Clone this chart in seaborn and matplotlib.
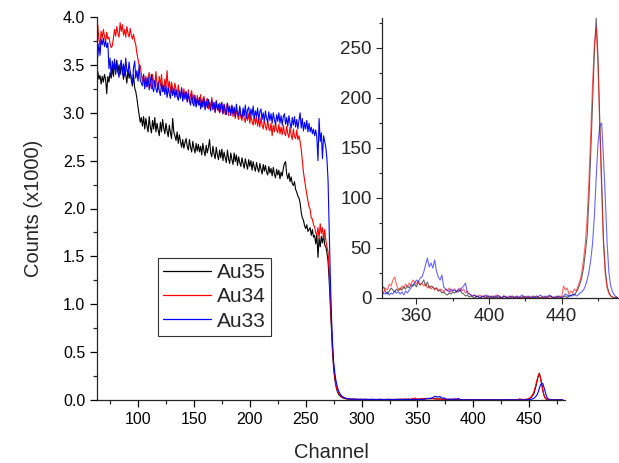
import numpy as np
import pandas as pd
import matplotlib
matplotlib.use("Agg")
import matplotlib.pyplot as plt
import seaborn as sns
from matplotlib.ticker import MultipleLocator, FormatStrFormatter

# ---------------- data (counts per channel) ----------------
series_names = ["Au35", "Au34", "Au33"]
series_colors = ["#000000", "#ff0000", "#0000ff"]
first_channel = 64

# channels 64..280
au35_plateau = [
    3430, 3350, 3390, 3300, 3380, 3320, 3400, 3350, 3200, 3380,
    3320, 3420, 3360, 3470, 3380, 3530, 3430, 3550, 3420, 3500,
    3400, 3520, 3430, 3350, 3480, 3400, 3310, 3450, 3360, 3430,
    3340, 3280, 3400, 3260, 3220, 3150, 3060, 2980, 2900, 2950,
    2860, 2960, 2830, 2940, 2860, 2800, 2960, 2850, 2790, 2920,
    2830, 2950, 2800, 2890, 2820, 2760, 2900, 2800, 2930, 2840,
    2780, 2890, 2810, 2750, 2870, 2790, 2730, 2940, 2800, 2760,
    2710, 2800, 2680, 2770, 2700, 2640, 2720, 2630, 2690, 2730,
    2650, 2610, 2720, 2640, 2590, 2700, 2630, 2580, 2680, 2600,
    2670, 2590, 2650, 2560, 2680, 2600, 2550, 2660, 2580, 2640,
    2720, 2580, 2540, 2650, 2570, 2520, 2640, 2560, 2510, 2610,
    2530, 2620, 2500, 2590, 2530, 2480, 2610, 2520, 2470, 2580,
    2510, 2460, 2580, 2490, 2560, 2450, 2540, 2480, 2440, 2530,
    2470, 2420, 2520, 2460, 2410, 2510, 2440, 2500, 2400, 2490,
    2430, 2390, 2480, 2420, 2380, 2470, 2410, 2360, 2460, 2390,
    2450, 2380, 2350, 2440, 2370, 2420, 2340, 2430, 2360, 2320,
    2410, 2350, 2400, 2310, 2380, 2340, 2420, 2470, 2490, 2360,
    2310, 2370, 2280, 2330, 2260, 2240, 2280, 2200, 2170, 2130,
    2110, 2060, 1960, 1900, 1880, 1820, 1790, 1830, 1760, 1780,
    1800, 1720, 1780, 1700, 1720, 1630, 1730, 1490, 1690, 1600,
    1710, 1640, 1730, 1620, 1600, 1540, 1450, 1250, 1000, 750,
    500, 330, 220, 150, 100, 70, 50,
]
au34_plateau = [
    3920, 3760, 3710, 3850, 3780, 3870, 3800, 3740, 3840, 3770,
    3790, 3720, 3680, 3700, 3780, 3870, 3800, 3900, 3830, 3790,
    3940, 3850, 3920, 3810, 3870, 3790, 3900, 3830, 3790, 3880,
    3810, 3770, 3820, 3750, 3710, 3620, 3560, 3500, 3490, 3400,
    3330, 3400, 3280, 3380, 3270, 3370, 3420, 3300, 3250, 3400,
    3310, 3270, 3430, 3290, 3240, 3380, 3280, 3400, 3260, 3220,
    3350, 3270, 3440, 3240, 3330, 3210, 3320, 3250, 3200, 3310,
    3240, 3170, 3290, 3190, 3160, 3260, 3140, 3250, 3170, 3220,
    3130, 3240, 3110, 3190, 3230, 3100, 3190, 3120, 3070, 3180,
    3120, 3080, 3190, 3060, 3140, 3170, 3050, 3130, 3150, 3040,
    3110, 3060, 3160, 3030, 3100, 3000, 3130, 3040, 3020, 3100,
    3010, 3090, 2990, 3080, 2980, 3060, 3100, 2970, 3050, 2990,
    3070, 2960, 3040, 2940, 3030, 2970, 2930, 3050, 2950, 2920,
    3010, 2940, 2900, 3000, 2920, 2990, 2890, 2970, 2910, 2870,
    2980, 2880, 2960, 2860, 2940, 2850, 2950, 2870, 2830, 2930,
    2860, 2820, 2920, 2840, 2810, 2890, 2760, 2870, 2800, 2900,
    2820, 2790, 2880, 2780, 2850, 2770, 2870, 2790, 2760, 2860,
    2780, 2740, 2850, 2770, 2720, 2830, 2750, 2730, 2820, 2720,
    2760, 2700, 2620, 2500, 2380, 2300, 2220, 2150, 2080, 2020,
    1990, 1900, 1890, 1830, 1810, 1740, 1730, 1800, 1690, 1840,
    1740, 1800, 1690, 1780, 1670, 1600, 1550, 1350, 1100, 800,
    550, 360, 240, 160, 110, 80, 60,
]
au33_plateau = [
    3580, 3720, 3600, 3770, 3710, 3780, 3690, 3750, 3680, 3730,
    3460, 3570, 3380, 3540, 3440, 3560, 3400, 3520, 3430, 3370,
    3490, 3550, 3400, 3510, 3380, 3570, 3440, 3410, 3530, 3420,
    3370, 3300, 3470, 3540, 3360, 3440, 3330, 3500, 3340, 3310,
    3280, 3400, 3250, 3360, 3270, 3370, 3240, 3330, 3400, 3260,
    3220, 3340, 3250, 3210, 3320, 3230, 3180, 3310, 3220, 3290,
    3190, 3280, 3160, 3260, 3200, 3150, 3270, 3180, 3250, 3160,
    3240, 3170, 3130, 3230, 3150, 3260, 3120, 3210, 3140, 3220,
    3110, 3200, 3130, 3080, 3190, 3100, 3070, 3180, 3060, 3150,
    3080, 3160, 3040, 3130, 3060, 3150, 3030, 3120, 3050, 3140,
    3060, 3020, 3130, 3040, 3110, 3010, 3120, 3030, 3090, 3000,
    3080, 3110, 2990, 3090, 3020, 2980, 3100, 3010, 3070, 2970,
    3080, 2990, 3060, 2960, 3090, 3000, 2970, 3070, 2980, 2950,
    3050, 2970, 3080, 2940, 3030, 3060, 2950, 3040, 2970, 3070,
    2940, 3020, 2960, 3050, 2920, 3010, 3040, 2930, 3000, 2910,
    3020, 2940, 2900, 3010, 2920, 2990, 2890, 3000, 2930, 2880,
    2980, 2910, 3000, 2890, 2970, 2870, 2960, 2990, 2880, 2950,
    2860, 2970, 2890, 2840, 2950, 2870, 2960, 2850, 2930, 2830,
    2920, 3000, 2840, 2940, 2810, 2900, 2830, 2920, 2800, 2890,
    2800, 2850, 2780, 2830, 2760, 2820, 2740, 2500, 2940, 2700,
    2790, 2520, 2760, 2700, 2640, 2520, 2300, 1800, 1300, 900,
    600, 400, 290, 210, 150, 110, 80,
]

# channels 281..480
au35_tail = [
    40, 30, 24, 19, 15, 12, 11, 9, 10, 8,
    7, 9, 6, 8, 5, 7, 6, 4, 7, 5,
    6, 4, 7, 5, 6, 3, 5, 6, 4, 5,
    6, 4, 5, 3, 6, 4, 5, 7, 4, 5,
    3, 6, 4, 5, 7, 4, 6, 3, 5, 6,
    4, 7, 5, 6, 8, 5, 7, 6, 8, 7,
    9, 11, 6, 4, 7, 10, 8, 6, 9, 7,
    10, 8, 11, 9, 12, 10, 13, 12, 14, 11,
    16, 13, 15, 18, 12, 16, 10, 12, 11, 9,
    10, 7, 8, 5, 6, 4, 3, 5, 4, 6,
    5, 7, 6, 8, 5, 4, 2, 3, 1, 2,
    1, 0, 2, 1, 0, 1, 2, 0, 1, 0,
    1, 2, 0, 1, 0, 1, 0, 2, 1, 0,
    0, 1, 2, 0, 1, 0, 1, 0, 2, 1,
    0, 1, 0, 2, 1, 0, 1, 0, 1, 0,
    1, 0, 1, 2, 0, 1, 0, 2, 1, 0,
    1, 2, 0, 3, 2, 4, 3, 6, 9, 14,
    20, 30, 45, 62, 100, 145, 195, 245, 280, 240,
    175, 115, 58, 28, 12, 6, 2, 1, 0, 1, 0,
    0, 1, 0, 0, 1, 0, 1, 0, 0,
]
au34_tail = [
    45, 35, 28, 22, 18, 15, 12, 14, 10, 9,
    8, 10, 7, 9, 6, 8, 7, 5, 8, 6,
    7, 5, 6, 8, 5, 7, 4, 6, 5, 7,
    5, 6, 4, 7, 5, 6, 8, 5, 4, 6,
    5, 7, 6, 4, 8, 5, 6, 7, 5, 9,
    6, 8, 5, 9, 7, 6, 10, 8, 7, 9,
    4, 6, 10, 8, 14, 12, 18, 21, 13, 9,
    8, 12, 10, 14, 11, 15, 13, 18, 16, 14,
    17, 13, 15, 12, 14, 10, 12, 9, 11, 8,
    10, 7, 9, 8, 6, 9, 7, 10, 6, 8,
    9, 6, 8, 10, 7, 9, 5, 7, 4, 3,
    2, 3, 1, 2, 3, 1, 2, 0, 3, 1,
    2, 0, 1, 3, 1, 2, 0, 1, 2, 1,
    0, 2, 1, 0, 1, 2, 0, 1, 0, 1,
    2, 0, 1, 0, 1, 2, 1, 0, 1, 0,
    1, 0, 2, 1, 0, 1, 0, 1, 2, 1,
    12, 8, 10, 4, 7, 5, 9, 7, 12, 17,
    25, 38, 55, 80, 118, 165, 215, 255, 270, 232,
    168, 108, 55, 24, 10, 4, 2, 1, 0, 1, 0,
    0, 1, 0, 0, 1, 0, 0, 1, 0,
]
au33_tail = [
    60, 45, 35, 28, 22, 18, 15, 13, 11, 10,
    9, 8, 10, 7, 8, 6, 9, 7, 6, 8,
    7, 6, 8, 5, 7, 6, 5, 8, 6, 5,
    7, 5, 6, 4, 6, 5, 7, 4, 6, 5,
    4, 6, 5, 7, 4, 6, 5, 3, 6, 4,
    5, 6, 4, 7, 5, 4, 6, 5, 7, 4,
    3, 5, 4, 6, 3, 5, 4, 7, 5, 6,
    4, 6, 3, 7, 5, 8, 10, 13, 15, 18,
    16, 20, 21, 26, 33, 40, 31, 35, 30, 38,
    27, 21, 18, 23, 11, 9, 8, 6, 9, 7,
    8, 6, 9, 7, 10, 12, 15, 5, 4, 3,
    2, 3, 1, 2, 0, 2, 1, 3, 1, 2,
    1, 0, 2, 1, 3, 1, 0, 2, 1, 0,
    2, 1, 0, 1, 2, 0, 1, 3, 1, 0,
    1, 2, 0, 1, 0, 2, 1, 3, 2, 1,
    2, 1, 3, 2, 1, 0, 2, 1, 0, 1,
    2, 4, 3, 1, 3, 2, 4, 2, 3, 5,
    6, 8, 12, 18, 26, 38, 55, 82, 121, 155,
    172, 175, 140, 100, 55, 25, 12, 6, 3, 1, 0,
    1, 0, 1, 0, 0, 1, 0, 0, 1,
]

plateaus = [au35_plateau, au34_plateau, au33_plateau]
tails = [au35_tail, au34_tail, au33_tail]
for p, t in zip(plateaus, tails):
    assert len(p) == 217, len(p)
    assert len(t) == 200, len(t)

frames = []
for name, p, t in zip(series_names, plateaus, tails):
    counts = np.array(p + t, dtype=float)
    ch = np.arange(first_channel, first_channel + len(counts))
    frames.append(pd.DataFrame({"Channel": ch, "Counts": counts,
                                "kCounts": counts / 1000.0, "Sample": name}))
df = pd.concat(frames, ignore_index=True)
palette = dict(zip(series_names, series_colors))

# ---------------- style ----------------
sns.set_style("ticks")
plt.rcParams["font.family"] = ["Liberation Sans", "DejaVu Sans"]
plt.rcParams["axes.linewidth"] = 0.9

W, H = 619, 463
fig = plt.figure(figsize=(W / 100, H / 100), dpi=100)

# main axes
ax = fig.add_axes([97 / W, 1 - 400 / H, (565 - 97) / W, (400 - 17) / H])
sns.lineplot(data=df, x="Channel", y="kCounts", hue="Sample",
             hue_order=series_names, palette=palette, linewidth=0.8,
             estimator=None, sort=False, ax=ax)
ax.set_xlim(63.3, 482)
ax.set_ylim(0, 4.0)
ax.xaxis.set_major_locator(MultipleLocator(50))
ax.xaxis.set_minor_locator(MultipleLocator(25))
ax.yaxis.set_major_locator(MultipleLocator(0.5))
ax.yaxis.set_minor_locator(MultipleLocator(0.25))
ax.yaxis.set_major_formatter(FormatStrFormatter("%.1f"))
ax.tick_params(which="major", length=5, width=0.9, labelsize=11.5,
               direction="out", colors="black")
ax.tick_params(which="minor", length=3, width=0.9, direction="out")
ax.set_xlabel("Channel", fontsize=14.5, labelpad=12)
ax.set_ylabel("Counts (x1000)", fontsize=14.5, labelpad=14)
sns.despine(ax=ax)

handles, labels = ax.get_legend_handles_labels()
if ax.get_legend() is not None:
    ax.get_legend().remove()
leg = ax.legend(handles, labels, loc="upper left",
                bbox_to_anchor=(158 / W, 1 - 258 / H),
                bbox_transform=fig.transFigure, borderaxespad=0,
                frameon=True, fancybox=False, edgecolor="#333333",
                framealpha=1, fontsize=15, handlelength=2.3,
                handletextpad=0.3, labelspacing=0.25, borderpad=0.25)
leg.get_frame().set_linewidth(0.8)
for line in leg.get_lines():
    line.set_linewidth(0.9)

# inset axes
axin = fig.add_axes([382 / W, 1 - 298 / H, (618 - 382) / W, (298 - 18) / H])
axin.patch.set_alpha(0)
sns.lineplot(data=df, x="Channel", y="Counts", hue="Sample",
             hue_order=series_names, palette=palette, linewidth=0.8,
             alpha=0.6, estimator=None, sort=False, legend=False, ax=axin)
axin.set_xlim(341, 471)
axin.set_ylim(0, 280)
axin.xaxis.set_major_locator(MultipleLocator(40))
axin.xaxis.set_minor_locator(MultipleLocator(20))
axin.yaxis.set_major_locator(MultipleLocator(50))
axin.yaxis.set_minor_locator(MultipleLocator(25))
axin.tick_params(which="major", length=4, width=0.8, labelsize=13.5,
                 direction="out")
axin.tick_params(which="minor", length=2.5, width=0.8, direction="out")
axin.set_xlabel("")
axin.set_ylabel("")
sns.despine(ax=axin)

fig.savefig("out.png", dpi=100)
